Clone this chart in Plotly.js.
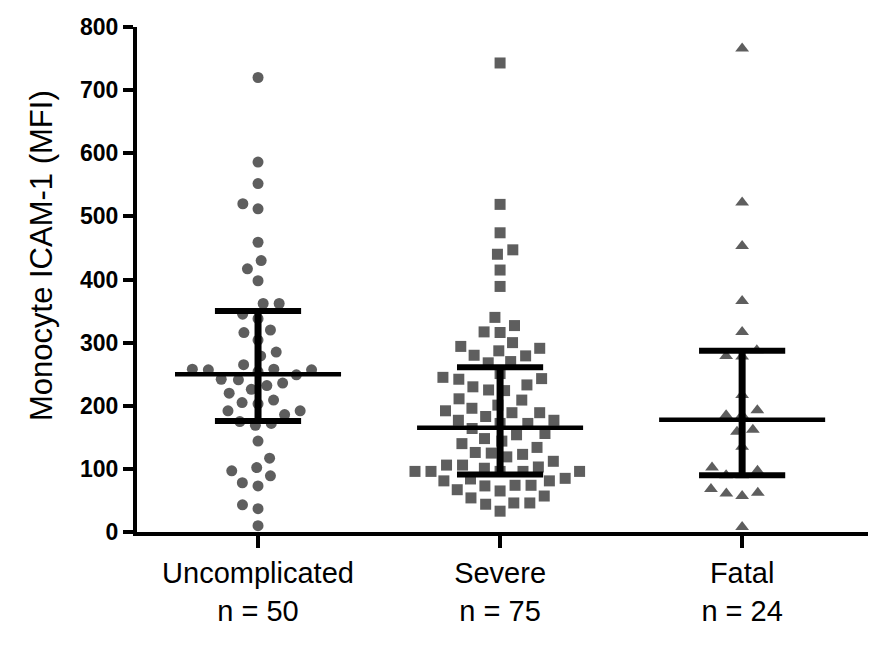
<!DOCTYPE html>
<html>
<head>
<meta charset="utf-8">
<script src="https://cdn.plot.ly/plotly-3.0.1.min.js"></script>
<style>
  html, body { margin: 0; padding: 0; background: #fff; }
  #chart { width: 880px; height: 646px; }
</style>
</head>
<body>
<div id="chart"></div>
<script>
var groups = ["Uncomplicated", "Severe", "Fatal"];
var groupCounts = ["n = 50", "n = 75", "n = 24"];

var uncomplicated = [720, 586, 552, 520, 512, 459, 430, 417, 398, 362, 362, 345, 338, 320, 316,
    304, 285, 279, 265, 258, 258, 257, 257, 254, 249, 242, 241, 236, 232, 226, 220, 209, 205,
    203, 192, 192, 186, 175, 172, 169, 144, 117, 102, 97, 89, 78, 73, 43, 37, 10];
var severe = [743, 519, 474, 447, 440, 415, 389, 340, 327, 317, 316, 300, 294, 291, 287, 280,
    279, 270, 268, 251, 245, 243, 242, 233, 230, 225, 224, 211, 209, 201, 196, 192, 189, 189,
    183, 177, 177, 172, 172, 164, 156, 154, 148, 144, 140, 134, 126, 125, 123, 119, 112, 106,
    106, 103, 101, 96, 96, 96, 96, 96, 85, 84, 81, 81, 74, 74, 73, 67, 65, 57, 54, 46, 46, 44, 33];
var fatal = [766, 522, 453, 366, 317, 288, 279, 278, 217, 193, 185, 185, 162, 159, 135, 102, 97,
    90, 90, 68, 62, 61, 57, 8];

// median and interquartile range per group
var medians = [250, 165, 178];
var q1 = [176, 91, 90];
var q3 = [350, 261, 287];

var margin = { l: 137, r: 12, t: 27, b: 114 };
var xRange = [-0.5, 2.52];
var yRange = [0, 800];
var pxPerX = (880 - margin.l - margin.r) / (xRange[1] - xRange[0]);
var pxPerY = (646 - margin.t - margin.b) / (yRange[1] - yRange[0]);

// simple beeswarm: push each point sideways until it no longer overlaps
function swarm(vals, d) {
    var order = vals.map(function (v, i) { return i; });
    order.sort(function (a, b) { return vals[a] - vals[b]; });
    var placed = [];
    var xs = new Array(vals.length);
    order.forEach(function (i) {
        var y = vals[i] * pxPerY;
        var spans = [];
        placed.forEach(function (p) {
            var dy = Math.abs(p.y - y);
            if (dy < d) {
                var dx = Math.sqrt(d * d - dy * dy);
                spans.push([p.x - dx, p.x + dx]);
            }
        });
        var cands = [0];
        spans.forEach(function (s) { cands.push(s[0], s[1]); });
        cands.sort(function (a, b) { return Math.abs(a) - Math.abs(b); });
        var x = 0;
        for (var k = 0; k < cands.length; k++) {
            var c = cands[k];
            var ok = spans.every(function (s) { return c <= s[0] + 1e-6 || c >= s[1] - 1e-6; });
            if (ok) { x = c; break; }
        }
        placed.push({ x: x, y: y });
        xs[i] = x;
    });
    return xs.map(function (x) { return x / pxPerX; });
}

function dotTrace(vals, idx, symbol, size) {
    var offs = swarm(vals, 16);
    return {
        type: "scatter",
        mode: "markers",
        x: offs.map(function (o) { return idx + o; }),
        y: vals,
        marker: { symbol: symbol, size: size, color: "#5e5e5e" },
        hoverinfo: "y",
        showlegend: false
    };
}

var traces = [
    dotTrace(uncomplicated, 0, "circle", 11),
    dotTrace(severe, 1, "square", 11),
    dotTrace(fatal, 2, "triangle-up", 12)
];

// error bar pieces
var vx = [], vy = [], cx = [], cy = [], mx = [], my = [];
var capHalf = 0.178, medHalf = 0.343;
medians.forEach(function (m, i) {
    vx.push(i, i, null); vy.push(q1[i], q3[i], null);
    cx.push(i - capHalf, i + capHalf, null, i - capHalf, i + capHalf, null);
    cy.push(q1[i], q1[i], null, q3[i], q3[i], null);
    mx.push(i - medHalf, i + medHalf, null);
    my.push(m, m, null);
});
traces.push({ type: "scatter", mode: "lines", x: vx, y: vy, line: { color: "#000", width: 7 }, hoverinfo: "skip", showlegend: false });
traces.push({ type: "scatter", mode: "lines", x: cx, y: cy, line: { color: "#000", width: 6 }, hoverinfo: "skip", showlegend: false });
traces.push({ type: "scatter", mode: "lines", x: mx, y: my, line: { color: "#000", width: 4.5 }, hoverinfo: "skip", showlegend: false });

var layout = {
    width: 880,
    height: 646,
    margin: margin,
    paper_bgcolor: "#fff",
    plot_bgcolor: "#fff",
    font: { family: "Liberation Sans, Arial, sans-serif", color: "#000" },
    xaxis: {
        range: xRange,
        tickvals: [0, 1, 2],
        ticktext: groups.map(function (g, i) { return g + "<br>" + groupCounts[i]; }),
        tickfont: { size: 29 },
        showline: true,
        linecolor: "#000",
        linewidth: 4,
        ticks: "outside",
        ticklen: 12,
        tickwidth: 4,
        tickcolor: "#000",
        showgrid: false,
        zeroline: false,
        fixedrange: true
    },
    yaxis: {
        range: yRange,
        tickvals: [0, 100, 200, 300, 400, 500, 600, 700, 800],
        tickfont: { size: 23, family: "Liberation Sans, Arial, sans-serif", weight: "bold" },
        showline: true,
        linecolor: "#000",
        linewidth: 4,
        ticks: "outside",
        ticklen: 10,
        tickwidth: 4,
        tickcolor: "#000",
        showgrid: false,
        zeroline: false,
        fixedrange: true
    },
    annotations: [{
        text: "Monocyte ICAM-1 (MFI)",
        xref: "paper", yref: "paper",
        x: (42 - margin.l) / (880 - margin.l - margin.r),
        y: (532 - 255) / (646 - margin.t - margin.b),
        textangle: -90,
        showarrow: false,
        font: { size: 31 },
        xanchor: "center", yanchor: "middle"
    }]
};

Plotly.newPlot("chart", traces, layout, { displayModeBar: false, staticPlot: true });
</script>
</body>
</html>
